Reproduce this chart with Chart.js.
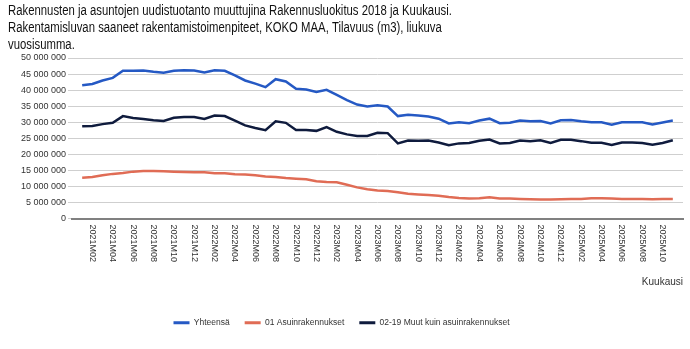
<!DOCTYPE html>
<html><head><meta charset="utf-8">
<script src="https://cdn.jsdelivr.net/npm/chart.js@4.4.1/dist/chart.umd.min.js"></script>
<style>html,body{margin:0;padding:0;background:#fff}#wrap{width:690px;height:349px;position:relative}</style>
</head><body><div id="wrap"><canvas id="c" width="690" height="349"></canvas></div>
<script>
const titleLines = [
  'Rakennusten ja asuntojen uudistuotanto muuttujina Rakennusluokitus 2018 ja Kuukausi.',
  'Rakentamisluvan saaneet rakentamistoimenpiteet, KOKO MAA, Tilavuus (m3), liukuva',
  'vuosisumma.'
];
const xAxisTitle = 'Kuukausi';
const months = [
  '2021M01','2021M02','2021M03','2021M04','2021M05','2021M06','2021M07','2021M08','2021M09','2021M10','2021M11','2021M12',
  '2022M01','2022M02','2022M03','2022M04','2022M05','2022M06','2022M07','2022M08','2022M09','2022M10','2022M11','2022M12',
  '2023M01','2023M02','2023M03','2023M04','2023M05','2023M06','2023M07','2023M08','2023M09','2023M10','2023M11','2023M12',
  '2024M01','2024M02','2024M03','2024M04','2024M05','2024M06','2024M07','2024M08','2024M09','2024M10','2024M11','2024M12',
  '2025M01','2025M02','2025M03','2025M04','2025M05','2025M06','2025M07','2025M08','2025M09','2025M10','2025M11'
];
const seriesNames = ['Yhteensä', '01 Asuinrakennukset', '02-19 Muut kuin asuinrakennukset'];
const yhteensa = [
  41500000,41900000,43000000,43800000,46000000,46000000,46100000,45700000,45400000,46000000,46200000,46100000,
  45500000,46200000,46000000,44600000,43000000,42000000,40900000,43400000,42700000,40400000,40200000,39400000,
  40100000,38500000,36900000,35500000,34900000,35300000,34900000,31900000,32300000,32100000,31800000,31100000,
  29600000,30000000,29700000,30500000,31100000,29700000,29800000,30500000,30300000,30400000,29600000,30600000,
  30700000,30300000,30000000,30000000,29200000,30000000,30000000,30000000,29300000,29900000,30500000
];
const asuinrakennukset = [
  12700000,12900000,13500000,13900000,14200000,14600000,14800000,14800000,14700000,14600000,14500000,14400000,
  14400000,14100000,14100000,13800000,13700000,13500000,13100000,12900000,12600000,12400000,12200000,11600000,
  11400000,11300000,10500000,9700000,9100000,8700000,8600000,8200000,7700000,7500000,7300000,7100000,
  6700000,6400000,6200000,6300000,6600000,6200000,6200000,6100000,6000000,5900000,5900000,6000000,
  6100000,6100000,6300000,6300000,6200000,6100000,6100000,6100000,6000000,6100000,6100000
];
const muutKuinAsuin = [
  28700000,28800000,29400000,29800000,31900000,31300000,31000000,30600000,30400000,31400000,31600000,31600000,
  31000000,32100000,31900000,30500000,29000000,28200000,27500000,30300000,29800000,27600000,27600000,27300000,
  28500000,27000000,26200000,25700000,25700000,26700000,26600000,23400000,24300000,24200000,24300000,23700000,
  22800000,23400000,23500000,24200000,24600000,23400000,23500000,24300000,24100000,24400000,23500000,24500000,
  24500000,24100000,23600000,23600000,22900000,23700000,23700000,23500000,23000000,23500000,24400000
];
const seriesColors = ['#2559c4', '#e06c55', '#0f1b3d'];

const baseFont = '"Liberation Sans", Arial, sans-serif';
const titleFont = '14px "Liberation Sans", Arial, sans-serif';

function fmt(v) {
  return String(Math.round(v)).replace(/\B(?=(\d{3})+(?!\d))/g, ' ');
}
function mk(label, values, color) {
  return {
    label, data: values.map((v, i) => ({x: i, y: v})),
    borderColor: color, backgroundColor: color, borderWidth: 2.5,
    pointRadius: 0, pointHoverRadius: 0, tension: 0, fill: false
  };
}

const textPlugin = {
  id: 'textPlugin',
  afterDraw(chart) {
    const ctx = chart.ctx;
    const xs = chart.scales.x;
    ctx.save();
    ctx.fillStyle = '#111';
    ctx.font = titleFont;
    ctx.textAlign = 'left';
    ctx.textBaseline = 'alphabetic';
    titleLines.forEach((t, k) => {
      ctx.save();
      ctx.translate(8, 15 + k * 17);
      ctx.scale(0.81, 1);
      ctx.fillText(t, 0, 0);
      ctx.restore();
    });
    ctx.fillStyle = '#333';
    ctx.font = '9px ' + baseFont;
    months.forEach((m, i) => {
      if (i % 2 !== 1) return;
      const px = xs.getPixelForValue(i);
      ctx.save();
      ctx.translate(px, xs.top + 6);
      ctx.rotate(Math.PI / 2);
      ctx.textAlign = 'left';
      ctx.textBaseline = 'middle';
      ctx.fillText(m, 0, 0);
      ctx.restore();
    });
    ctx.font = '10px ' + baseFont;
    ctx.textAlign = 'right';
    ctx.textBaseline = 'alphabetic';
    ctx.fillText(xAxisTitle, xs.right, 285);
    ctx.restore();
  }
};

new Chart(document.getElementById('c'), {
  type: 'line',
  data: {
    datasets: [
      mk(seriesNames[0], yhteensa, seriesColors[0]),
      mk(seriesNames[1], asuinrakennukset, seriesColors[1]),
      mk(seriesNames[2], muutKuinAsuin, seriesColors[2])
    ]
  },
  options: {
    responsive: false, animation: false, devicePixelRatio: 1,
    layout: {padding: {top: 58, right: 7, bottom: 12, left: 0}},
    scales: {
      x: {
        type: 'linear', min: -1, max: 59,
        grid: {display: false},
        border: {display: true, color: '#808080', width: 2},
        ticks: {display: false},
        afterFit: s => { s.height = 85; }
      },
      y: {
        min: 0, max: 50000000,
        ticks: {stepSize: 5000000, callback: v => fmt(v), font: {size: 9, family: baseFont}, color: '#333', padding: 2},
        grid: {color: '#cfcfcf', lineWidth: 1, tickLength: 4},
        border: {display: false},
        afterFit: s => { s.width = 72; }
      }
    },
    plugins: {
      legend: {
        position: 'bottom',
        labels: {
          boxWidth: 16, boxHeight: 3, padding: 15, color: '#333',
          font: {size: 8.5, family: baseFont},
          generateLabels: chart => Chart.defaults.plugins.legend.labels.generateLabels(chart).map(it => Object.assign(it, {lineWidth: 0}))
        }
      },
      tooltip: {enabled: false},
      title: {display: false}
    }
  },
  plugins: [textPlugin]
});
</script>
</body></html>
